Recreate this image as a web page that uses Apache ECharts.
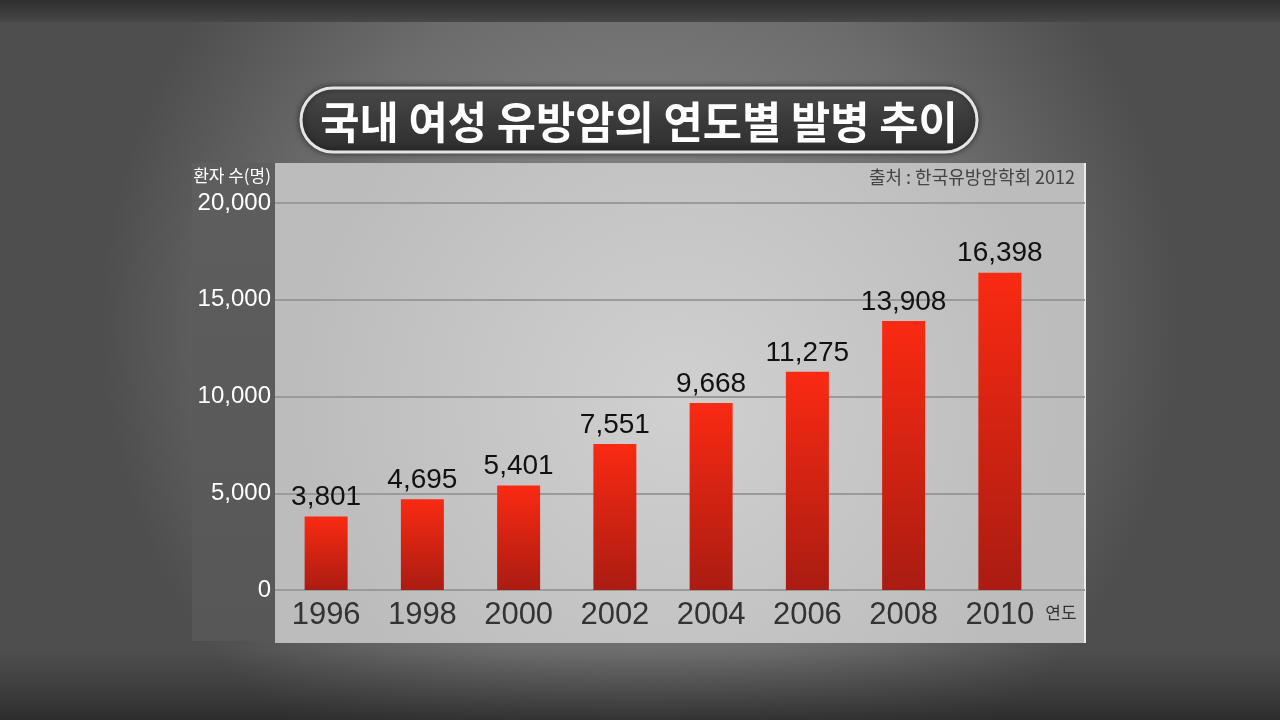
<!DOCTYPE html>
<html><head><meta charset="utf-8">
<style>html,body{margin:0;padding:0;background:#555;}#c{width:1280px;height:720px;}</style>
<script src="https://cdn.jsdelivr.net/npm/echarts@6/dist/echarts.min.js"></script>
</head><body><div id="c"></div>
<script>
const titleText = '국내 여성 유방암의 연도별 발병 추이';
const yAxisName = '환자 수(명)';
const xAxisName = '연도';
const sourceText = '출처 : 한국유방암학회 2012';
const years = ['1996','1998','2000','2002','2004','2006','2008','2010'];
const patients = [3801, 4695, 5401, 7551, 9668, 11275, 13908, 16398];
const yMin = 0, yMax = 20000, yStep = 5000;

const chart = echarts.init(document.getElementById('c'));
const fontLat = '"Liberation Sans", Arial, Helvetica, sans-serif';
const fontKr = '"Noto Sans CJK KR", "Noto Sans", sans-serif';

chart.setOption({
  animation: false,
  backgroundColor: {
    type: 'radial', x: 0.5, y: 0.45, r: 0.75,
    colorStops: [{offset: 0, color: '#8e8e8e'}, {offset: 0.65, color: '#6c6c6c'}, {offset: 1, color: '#4e4e4e'}]
  },
  graphic: [
    {type: 'rect', z: -5, shape: {x: 0, y: 0, width: 1280, height: 22},
      style: {fill: {type: 'linear', x: 0, y: 0, x2: 0, y2: 1, colorStops: [{offset: 0, color: '#2e2e2e'}, {offset: 1, color: '#474747'}]}}},
    {type: 'rect', z: -5, shape: {x: 0, y: 650, width: 1280, height: 70},
      style: {fill: {type: 'linear', x: 0, y: 0, x2: 0, y2: 1, colorStops: [{offset: 0, color: 'rgba(40,40,40,0)'}, {offset: 0.4, color: 'rgba(40,40,40,0.3)'}, {offset: 1, color: 'rgba(30,30,30,0.7)'}]}}},
    {type: 'rect', z: -3, shape: {x: 192, y: 163, width: 83, height: 478},
      style: {fill: {type: 'linear', x: 0, y: 0, x2: 0, y2: 1, colorStops: [{offset: 0, color: '#5e5e5e'}, {offset: 1, color: '#575757'}]}}},
    {type: 'rect', z: -3, shape: {x: 275, y: 163, width: 810, height: 480},
      style: {fill: {type: 'radial', x: 0.5, y: 0.5, r: 0.8, colorStops: [{offset: 0, color: '#d0d0d0'}, {offset: 1, color: '#bcbcbc'}]}}},
    {type: 'rect', z: -2, shape: {x: 1084, y: 163, width: 2, height: 480}, style: {fill: '#ececec'}},
    {type: 'rect', z: 5, shape: {x: 301, y: 88, width: 676, height: 64, r: 32},
      style: {fill: {type: 'linear', x: 0, y: 0, x2: 0, y2: 1, colorStops: [{offset: 0, color: '#4a4a4a'}, {offset: 0.5, color: '#3a3a3a'}, {offset: 1, color: '#2e2e2e'}]},
        stroke: '#e4e4e4', lineWidth: 3, shadowBlur: 6, shadowColor: 'rgba(0,0,0,0.5)'}},
    {type: 'text', z: 6, x: 639, y: 122, scaleX: 0.97, originX: 0, originY: 0,
      style: {text: titleText, fill: '#ffffff', font: 'bold 44px ' + fontKr, align: 'center', verticalAlign: 'middle'}},
    {type: 'text', z: 6, x: 271, y: 176,
      style: {text: yAxisName, fill: '#ffffff', font: '17px ' + fontKr, align: 'right', verticalAlign: 'middle'}},
    {type: 'text', z: 6, x: 1075, y: 177,
      style: {text: sourceText, fill: '#444444', font: '18px ' + fontKr, align: 'right', verticalAlign: 'middle'}},
    {type: 'text', z: 6, x: 1061, y: 613,
      style: {text: xAxisName, fill: '#333333', font: '17px ' + fontKr, align: 'center', verticalAlign: 'middle'}}
  ],
  grid: [
    {left: 275, right: 195, top: 203, bottom: 130},
    {left: 278, right: 232, top: 203, bottom: 130}
  ],
  xAxis: [
    {gridIndex: 0, type: 'value', show: false, min: 0, max: 1},
    {gridIndex: 1, type: 'category', data: years,
      axisLine: {show: false}, axisTick: {show: false},
      axisLabel: {color: '#333333', fontFamily: fontLat, fontSize: 31, margin: 10}}
  ],
  yAxis: [
    {gridIndex: 0, type: 'value', min: yMin, max: yMax, interval: yStep,
      axisLine: {show: false}, axisTick: {show: false},
      axisLabel: {color: '#ffffff', fontFamily: fontLat, fontSize: 24, margin: 4,
        formatter: v => v.toLocaleString('en-US')},
      splitLine: {lineStyle: {color: '#9a9a9a', width: 2}}},
    {gridIndex: 1, type: 'value', min: yMin, max: yMax, interval: yStep, show: false, splitLine: {show: false}}
  ],
  series: [{
    type: 'bar', xAxisIndex: 1, yAxisIndex: 1, data: patients, barWidth: 43,
    itemStyle: {color: {type: 'linear', x: 0, y: 0, x2: 0, y2: 1,
      colorStops: [{offset: 0, color: '#fa2a12'}, {offset: 1, color: '#aa1c12'}]}},
    label: {show: true, position: 'top', distance: 5, color: '#111111', fontFamily: fontLat, fontSize: 28,
      formatter: p => p.value.toLocaleString('en-US')}
  }]
});
</script></body></html>
